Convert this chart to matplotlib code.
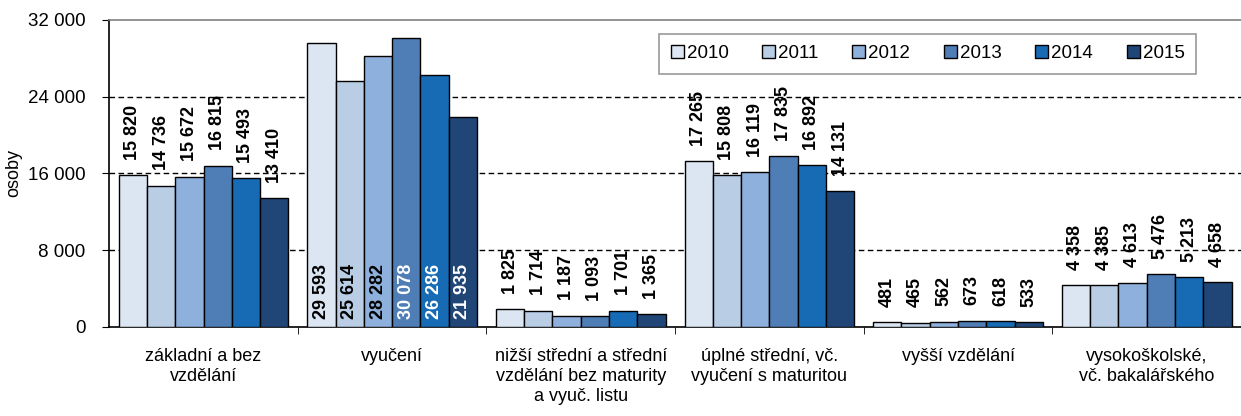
import numpy as np
import matplotlib.pyplot as plt

plt.rcParams['font.family'] = ['Liberation Sans', 'DejaVu Sans']

categories = ['základní a bez\nvzdělání', 'vyučení',
              'nižší střední a střední\nvzdělání bez maturity\na vyuč. listu',
              'úplné střední, vč.\nvyučení s maturitou', 'vyšší vzdělání',
              'vysokoškolské,\nvč. bakalářského']
years = ['2010', '2011', '2012', '2013', '2014', '2015']
v2010 = [15820, 29593, 1825, 17265, 481, 4358]
v2011 = [14736, 25614, 1714, 15808, 465, 4385]
v2012 = [15672, 28282, 1187, 16119, 562, 4613]
v2013 = [16815, 30078, 1093, 17835, 673, 5476]
v2014 = [15493, 26286, 1701, 16892, 618, 5213]
v2015 = [13410, 21935, 1365, 14131, 533, 4658]
series = [v2010, v2011, v2012, v2013, v2014, v2015]
colors = ['#DCE6F2', '#B9CDE5', '#8EB0DC', '#4F7DB5', '#176BB5', '#1F4677']

def fmt(v):
    return f"{v:,}".replace(",", " ")

fig = plt.figure(figsize=(12.41, 4.16), dpi=100)
ax = fig.add_axes([0.088, 0.214, 0.912, 0.738])

x = np.arange(len(categories))
n = len(series)
w = 0.9 / n
for i, vals in enumerate(series):
    pos = x - 0.45 + w * (i + 0.5)
    ax.bar(pos, vals, w, color=colors[i], edgecolor='black', linewidth=1, label=years[i], zorder=3)
    for j, (p, v) in enumerate(zip(pos, vals)):
        if j == 1:
            tc = 'white' if i >= 3 else 'black'
            ax.annotate(fmt(v), (p, 0), xytext=(0, 6), textcoords='offset points',
                        rotation=90, ha='center', va='bottom', fontsize=13,
                        fontweight='bold', color=tc, zorder=4)
        else:
            ax.annotate(fmt(v), (p, v), xytext=(0, 11), textcoords='offset points',
                        rotation=90, ha='center', va='bottom', fontsize=13,
                        fontweight='bold', color='black', zorder=4)

ax.set_xlim(-0.5, 5.5)
ax.set_ylim(0, 32000)
ax.set_yticks([0, 8000, 16000, 24000, 32000])
ax.set_yticklabels([fmt(t) for t in [0, 8000, 16000, 24000, 32000]], fontsize=13.5)
ax.set_ylabel('osoby', fontsize=13, labelpad=4)
for g in [8000, 16000, 24000]:
    ax.axhline(g, color='black', linestyle=(0, (4, 2.5)), linewidth=1, zorder=1)

ax.set_xticks(x)
ax.set_xticklabels(categories, fontsize=13, linespacing=1.25)
ax.tick_params(axis='x', which='major', length=0, pad=15)
ax.set_xticks(np.arange(0.5, 5.5, 1), minor=True)
ax.tick_params(axis='x', which='minor', length=5, direction='out', color='black')
ax.tick_params(axis='y', length=5, direction='out', pad=12)

ax.spines['right'].set_visible(False)
ax.spines['top'].set_color('#808080')
ax.spines['top'].set_linewidth(1.2)
ax.spines['left'].set_linewidth(1.2)
ax.spines['bottom'].set_linewidth(1.2)

leg = ax.legend(ncol=6, loc='upper right', bbox_to_anchor=(0.96, 0.954), fontsize=13.5,
                frameon=True, fancybox=False, edgecolor='#808080', borderaxespad=0,
                handlelength=0.7, handleheight=0.7, handletextpad=0.15,
                columnspacing=1.8, borderpad=0.6)
leg.get_frame().set_linewidth(1.2)

fig.savefig('out.png', dpi=100)
